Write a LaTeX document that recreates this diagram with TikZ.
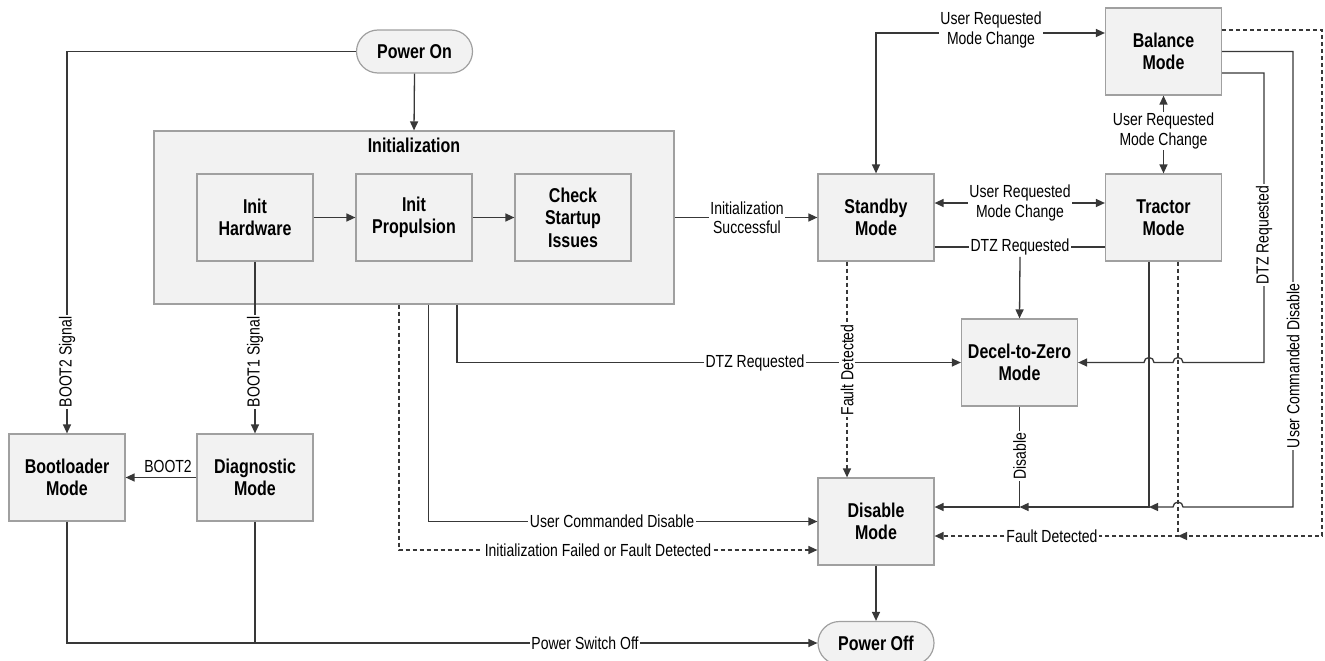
\documentclass[tikz,border=0pt]{standalone}
\usepackage{fontspec}
\setmainfont{Liberation Sans}[FakeStretch=0.8]
\usetikzlibrary{arrows.meta}
\definecolor{boxfill}{HTML}{F2F2F2}
\definecolor{boxline}{HTML}{A0A0A0}
\definecolor{wire}{HTML}{383838}
\begin{document}
\begin{tikzpicture}[x=1pt,y=-1pt,
  stbox/.style={draw=boxline, fill=boxfill, line width=1.2pt, minimum width=116pt, minimum height=87pt, align=center, font=\bfseries\fontsize{20}{22.4}\selectfont, inner sep=0pt},
  term/.style={stbox, minimum height=43pt, rounded corners=21.5pt},
  grp/.style={draw=boxline, fill=boxfill, line width=1.2pt, minimum width=520pt, minimum height=173pt, inner sep=0pt},
  ttl/.style={font=\bfseries\fontsize{20}{22.4}\selectfont, inner sep=0pt},
  lbl/.style={fill=white, inner sep=1.5pt, align=center, font=\fontsize{17.5}{19.3}\selectfont},
  wr/.style={draw=wire, line width=1.3pt},
  arr/.style={wr, -{Triangle[length=9pt,width=8pt]}},
  darr/.style={wr, {Triangle[length=9pt,width=8pt]}-{Triangle[length=9pt,width=8pt]}},
  dsh/.style={dash pattern=on 4pt off 3pt}
]
\useasboundingbox (0,0) rectangle (1325,661);
% group
\node[grp] (init) at (414,217.5) {};
\node[ttl] (initt) at (414,145) {Initialization};
% states
\node[term] (pon) at (414.5,51.5) {Power On};
\node[stbox] (ihw) at (255,217.5) {Init\\Hardware};
\node[stbox] (ipr) at (414,217.5) {Init\\Propulsion};
\node[stbox] (csi) at (573,217.5) {Check\\Startup\\Issues};
\node[stbox] (stb) at (876,217.5) {Standby\\Mode};
\node[stbox] (trc) at (1163.5,217.5) {Tractor\\Mode};
\node[stbox] (bal) at (1163.5,51.5) {Balance\\Mode};
\node[stbox] (dtz) at (1019.5,362.5) {Decel-to-Zero\\Mode};
\node[stbox] (dis) at (876,521.5) {Disable\\Mode};
\node[term] (poff) at (876,643) {Power Off};
\node[stbox] (boot) at (67,477.5) {Bootloader\\Mode};
\node[stbox] (diag) at (255,477.5) {Diagnostic\\Mode};
% junctions
\coordinate (j1) at (1019.5,507);
\coordinate (j2) at (1149,507);
\coordinate (j3) at (1178,536);

% connectors
\draw[arr] (pon.south) -- (init.north);
\draw[arr] (pon.west) -| (boot.north);
\draw[arr] (ihw.south) -- (diag.north);
\draw[arr] (diag.west) -- (boot.east);
\draw[arr] (ihw.east) -- (ipr.west);
\draw[arr] (ipr.east) -- (csi.west);
\draw[arr] (init.east) -- (stb.west);
\draw[darr] ([yshift=14.5pt]stb.east) -- ([yshift=14.5pt]trc.west);
\draw[wr] ([yshift=-29.5pt]stb.east) -- ([yshift=-29.5pt]trc.west);
\draw[darr] ([yshift=18.5pt]bal.west) -| (stb.north);
\draw[darr] (bal.south) -- (trc.north);
\draw[arr,dsh] ([xshift=-15pt]init.south) |- ([yshift=-28.5pt]dis.west);
\draw[arr] ([xshift=14.5pt]init.south) |- (dis.west);
\draw[arr] ([xshift=43pt]init.south) |- (dtz.west);
\draw[arr,dsh] ([xshift=-29pt]stb.south) -- ([xshift=-29pt]dis.north);
\draw[arr] (dtz.south) |- ([yshift=14.5pt]dis.east);
\draw[arr] ([xshift=-14.5pt]trc.south) |- (j1);
\draw[arr,dsh] ([xshift=14.5pt]trc.south) |- ([yshift=-14.5pt]dis.east);
\draw[arr] (bal.east) -- (1293,51.5) -- (1293,507) -- (1183,507)
  arc[start angle=0,end angle=180,radius=5pt] -- (j2);
\draw[arr] ([yshift=-21.5pt]bal.east) -- (1264,73) -- (1264,362.5) -- (1183,362.5)
  arc[start angle=0,end angle=180,radius=5pt] -- (1154,362.5)
  arc[start angle=0,end angle=180,radius=5pt] -- (dtz.east);
\draw[arr,dsh] ([yshift=21.5pt]bal.east) -- (1322,30) -- (1322,536) -- (j3);
\draw[arr] (dis.south) -- (poff.north);
\draw[arr] (boot.south) |- (poff.west);
\draw[wr] (diag.south) -- (diag.south |- poff.west);

% labels
\node[lbl, rotate=90] (l1) at (67,362) {BOOT2 Signal};
\node[lbl, rotate=90] (l2) at (255,362) {BOOT1 Signal};
\node[lbl, fill=none] (l3) at (168,466) {BOOT2};
\node[lbl] (l4) at (747,217.5) {Initialization\\Successful};
\node[lbl] (l5) at (1020,203) {User Requested\\Mode Change};
\node[lbl] (l6) at (1020,247) {DTZ Requested};
\node[lbl] (l7) at (991,30) {User Requested\\Mode Change};
\node[lbl] (l8) at (1163.5,131) {User Requested\\Mode Change};
\node[lbl] (l9) at (598,550) {Initialization Failed or Fault Detected};
\node[lbl] (l10) at (612,521.5) {User Commanded Disable};
\node[lbl] (l11) at (755,362.5) {DTZ Requested};
\node[lbl, rotate=90] (l12) at (847,370) {Fault Detected};
\node[lbl, rotate=90] (l13) at (1019.5,456) {Disable};
\node[lbl, rotate=90] (l14) at (1293,366) {User Commanded Disable};
\node[lbl, rotate=90] (l15) at (1264,235) {DTZ Requested};
\node[lbl] (l16) at (1052,536) {Fault Detected};
\node[lbl] (l17) at (585,643) {Power Switch Off};
\draw[arr] (l6.south) -- (dtz.north);
\end{tikzpicture}
\end{document}
